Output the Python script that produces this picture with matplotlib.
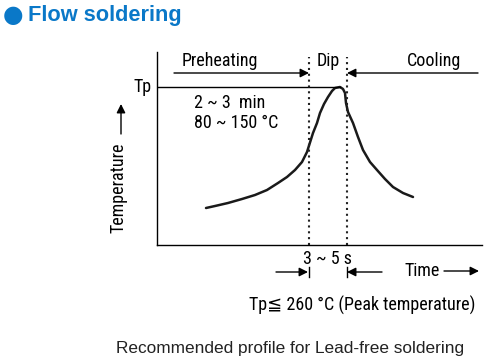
import matplotlib
matplotlib.use("Agg")
import matplotlib.pyplot as plt
from matplotlib.patches import FancyArrowPatch
from matplotlib.lines import Line2D

# profile curve (arbitrary time / temperature units)
time = [49, 58, 71, 85, 98, 110, 121, 130, 138, 145, 150,
        156, 160, 163, 167, 171, 175, 178, 183, 186, 188, 189,
        191, 196, 201, 206, 213, 220, 228, 236, 246, 256]
temp = [37, 39, 42, 46, 50, 55, 62, 68, 75, 83, 93,
        112, 122, 132, 141, 148, 154, 157, 158, 156, 152, 142,
        133, 122, 108, 95, 83, 75, 66, 58, 52, 48]
tp = 158
dip_start, dip_end = 152, 190
x_max, y_max = 325, 193

title = "Flow soldering"
phases = ["Preheating", "Dip", "Cooling"]
caption = "Recommended profile for Lead-free soldering"

W, H = 497, 364
BLUE = "#0a78c8"
NARROW = ["Roboto Condensed", "DejaVu Sans", "Noto Sans CJK JP"]
REG = ["Liberation Sans", "DejaVu Sans"]
FS = 13


def px(x, y):
    return x / W, 1 - y / H


fig = plt.figure(figsize=(W / 100, H / 100), dpi=100)
ax = fig.add_axes([157 / W, (H - 245) / H, x_max / W, y_max / H])
ax.set_xlim(0, x_max)
ax.set_ylim(0, y_max)
for s in ["top", "right"]:
    ax.spines[s].set_visible(False)
for s in ["left", "bottom"]:
    ax.spines[s].set_linewidth(1.0)
ax.set_xticks([])
ax.set_yticks([])
ax.patch.set_alpha(0)

ax.plot(time, temp, color="#1a1a1a", lw=1.8, solid_capstyle="round", solid_joinstyle="round")
ax.plot([0, time[temp.index(max(temp))]], [tp, tp], color="black", lw=1.0)
for xd in (dip_start, dip_end):
    ax.plot([xd, xd], [0, 188], color="#222222", lw=1.5, linestyle=(0, (1, 1.8)))

arr = dict(arrowstyle="-|>", color="black", lw=1.0, mutation_scale=13, shrinkA=0, shrinkB=0)
ax.annotate("", xy=(dip_start, 172), xytext=(17, 172), arrowprops=arr)
ax.annotate("", xy=(dip_end, 172), xytext=(321, 172), arrowprops=arr)

# title
fig.text(*px(13, 15), "\u25cf", color=BLUE, fontsize=17, ha="center", va="center",
         family=["DejaVu Sans"])
fig.text(*px(28, 16), title, color=BLUE, fontsize=15.7, fontweight="bold",
         ha="left", va="center", family=REG)

fig.text(*px(220, 61), phases[0], fontsize=FS, ha="center", va="center", family=NARROW)
fig.text(*px(328, 61), phases[1], fontsize=FS, ha="center", va="center", family=NARROW)
fig.text(*px(434, 61), phases[2], fontsize=FS, ha="center", va="center", family=NARROW)

fig.text(*px(152, 87), "Tp", fontsize=FS, ha="right", va="center", family=NARROW)
fig.text(*px(194, 103), "2 ~ 3  min", fontsize=FS, ha="left", va="center", family=NARROW)
fig.text(*px(194, 123), "80 ~ 150 \u00b0C", fontsize=FS, ha="left", va="center", family=NARROW)

fig.text(*px(118, 188), "Temperature", fontsize=FS, rotation=90, ha="center", va="center",
         family=NARROW)
fig.add_artist(FancyArrowPatch(px(121, 134), px(121, 104), transform=fig.transFigure, **arr))

fig.text(*px(327, 259), "3 ~ 5 s", fontsize=FS, ha="center", va="center", family=NARROW)
fig.add_artist(FancyArrowPatch(px(276, 272), px(308, 272), transform=fig.transFigure, **arr))
fig.add_artist(FancyArrowPatch(px(382, 272), px(347, 272), transform=fig.transFigure, **arr))
for xt in (308.5, 346.5):
    fig.add_artist(Line2D([xt / W, xt / W], [1 - 267 / H, 1 - 277 / H], color="black", lw=1.0))

fig.text(*px(440, 271), "Time", fontsize=FS, ha="right", va="center", family=NARROW)
fig.add_artist(FancyArrowPatch(px(444, 271), px(479, 271), transform=fig.transFigure, **arr))

fig.text(*px(249, 305), "Tp\u2266 260 \u00b0C (Peak temperature)", fontsize=FS,
         ha="left", va="center", family=NARROW)

fig.text(*px(290, 349), caption, fontsize=12.4, ha="center", va="center", color="#222222",
         family=REG)

fig.savefig("out.png", dpi=100)
